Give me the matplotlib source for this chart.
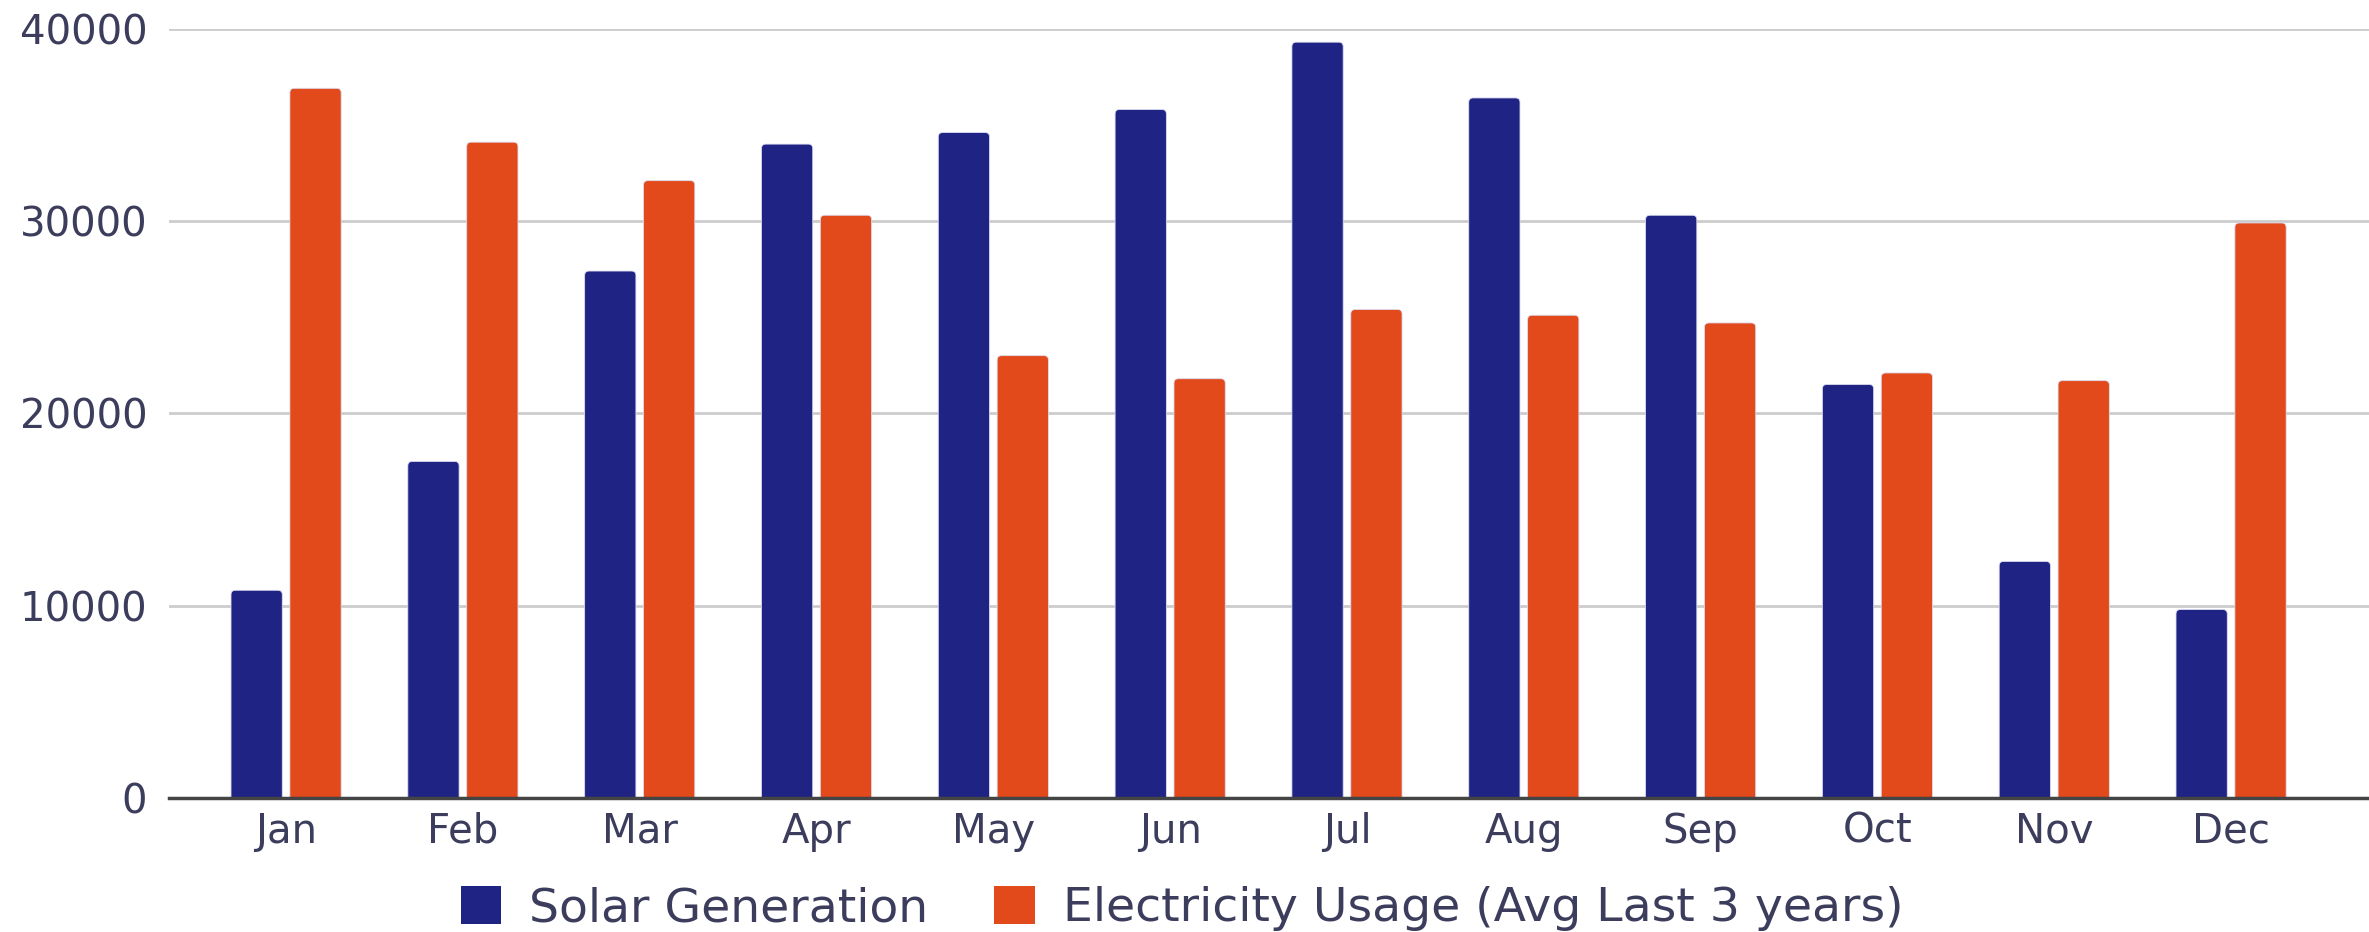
import numpy as np
import matplotlib
matplotlib.use("Agg")
import matplotlib.pyplot as plt
from matplotlib.patches import FancyBboxPatch, Patch

months = ["Jan", "Feb", "Mar", "Apr", "May", "Jun",
          "Jul", "Aug", "Sep", "Oct", "Nov", "Dec"]
solar = [10800, 17500, 27400, 34000, 34600, 35800,
         39300, 36400, 30300, 21500, 12300, 9800]
usage = [36900, 34100, 32100, 30300, 23000, 21800,
         25400, 25100, 24700, 22100, 21700, 29900]
y_ticks = [0, 10000, 20000, 30000, 40000]

navy = "#1e2384"
orange = "#e2491b"
text_col = "#3c3d5c"

plt.rcParams['font.family'] = ['DejaVu Sans']

fig = plt.figure(figsize=(23.69, 9.32), dpi=100)
ax = fig.add_axes([0.0715, 0.1438, 0.9285, 0.8254])

x = np.arange(len(months))
w = 0.29
off = 0.1665

b1 = ax.bar(x - off, solar, w, color=navy, label="Solar Generation")
b2 = ax.bar(x + off, usage, w, color=orange, label="Electricity Usage (Avg Last 3 years)")

# swap plain bars for ones with rounded tops
px_per_x = 2369 * 0.9285 / 12.44
px_per_y = 932 * 0.8254 / 40000
for bars, col in [(b1, navy), (b2, orange)]:
    for r in bars:
        r.set_visible(False)
        bx, by = r.get_x(), r.get_y()
        bw, bh = r.get_width(), r.get_height()
        p = FancyBboxPatch((bx, by - 400), bw, bh + 400,
                           boxstyle="round,pad=0,rounding_size=0.025",
                           mutation_aspect=px_per_x / px_per_y,
                           facecolor=col, edgecolor="#dcdcf0", linewidth=0.6,
                           zorder=3, clip_on=True)
        ax.add_patch(p)

ax.set_xlim(-0.66, 11.78)
ax.set_ylim(0, 40000)
ax.set_yticks(y_ticks)
ax.set_yticklabels([str(v) for v in y_ticks])
ax.set_xticks(x)
ax.set_xticklabels(months)
ax.tick_params(axis='both', length=0, labelsize=29, colors=text_col)
ax.tick_params(axis='x', pad=10)
ax.tick_params(axis='y', pad=16)

ax.grid(axis='y', color="#cccccc", linewidth=2, zorder=0)
ax.set_axisbelow(True)
for s in ["top", "right", "left"]:
    ax.spines[s].set_visible(False)
ax.spines["bottom"].set_color("#444444")
ax.spines["bottom"].set_linewidth(2.5)
ax.spines["bottom"].set_zorder(4)

handles = [Patch(facecolor=navy, label="Solar Generation"),
           Patch(facecolor=orange, label="Electricity Usage (Avg Last 3 years)")]
leg = fig.legend(handles=handles, loc="center", bbox_to_anchor=(0.499, 0.025),
                 ncol=2, frameon=False, fontsize=34, handlelength=0.85,
                 handleheight=0.85, handletextpad=0.6, columnspacing=1.4)
for t in leg.get_texts():
    t.set_color(text_col)

fig.savefig("out.png", dpi=100)
